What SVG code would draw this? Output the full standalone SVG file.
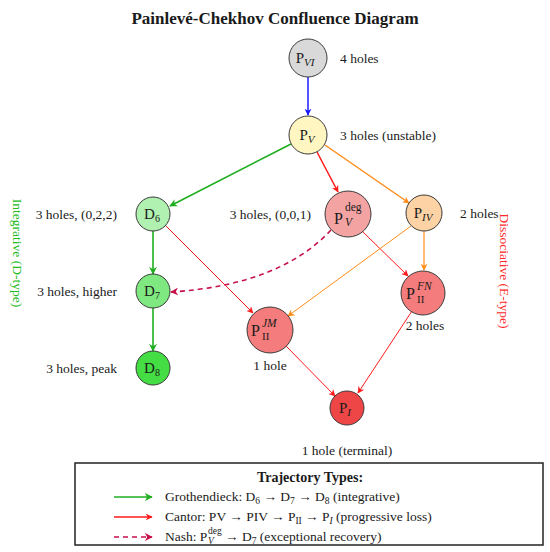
<svg xmlns="http://www.w3.org/2000/svg" width="550" height="552" viewBox="0 0 550 552">
<style>
text{font-family:"Liberation Serif","DejaVu Serif",serif;fill:#1a1a1a}
.title{font-size:17px;font-weight:bold;text-anchor:middle}
.nl{font-size:15px;text-anchor:middle}
.np{font-size:16px}
.lab{font-size:13.5px}
.node{stroke:#3a3a3a;stroke-width:1}
.e{fill:none}
.leg{font-size:13.5px}
</style>
<defs>
<marker id="aB" viewBox="0 0 10 10" refX="9" refY="5" markerWidth="7" markerHeight="7" orient="auto" markerUnits="userSpaceOnUse"><path d="M0,0 L10,5 L0,10 L3,5 Z" fill="#1a1aff"/></marker>
<marker id="aG" viewBox="0 0 10 10" refX="9" refY="5" markerWidth="8" markerHeight="8" orient="auto" markerUnits="userSpaceOnUse"><path d="M0,0 L10,5 L0,10 L3,5 Z" fill="#1fae1f"/></marker>
<marker id="aR" viewBox="0 0 10 10" refX="9" refY="5" markerWidth="7" markerHeight="7" orient="auto" markerUnits="userSpaceOnUse"><path d="M0,0 L10,5 L0,10 L3,5 Z" fill="#ff1a1a"/></marker>
<marker id="aO" viewBox="0 0 10 10" refX="9" refY="5" markerWidth="7" markerHeight="7" orient="auto" markerUnits="userSpaceOnUse"><path d="M0,0 L10,5 L0,10 L3,5 Z" fill="#ff8c1a"/></marker>
<marker id="aD" viewBox="0 0 10 10" refX="9" refY="5" markerWidth="8" markerHeight="8" orient="auto" markerUnits="userSpaceOnUse"><path d="M0,0 L10,5 L0,10 L3,5 Z" fill="#c8104a"/></marker>
</defs>
<rect width="550" height="552" fill="#ffffff"/>
<text class="title" x="275" y="24">Painlevé-Chekhov Confluence Diagram</text>

<g id="connectors">
<line class="e" x1="308" y1="77" x2="308" y2="115" stroke="#1a1aff" stroke-width="1.5" marker-end="url(#aB)"/>
<line class="e" x1="291" y1="144" x2="170" y2="206" stroke="#1fae1f" stroke-width="1.6" marker-end="url(#aG)"/>
<line class="e" x1="317" y1="152" x2="338" y2="192" stroke="#ff1a1a" stroke-width="1.5" marker-end="url(#aR)"/>
<line class="e" x1="325" y1="145" x2="409" y2="203" stroke="#ff8c1a" stroke-width="1.5" marker-end="url(#aO)"/>
<line class="e" x1="153" y1="231" x2="153" y2="274" stroke="#1fae1f" stroke-width="1.6" marker-end="url(#aG)"/>
<line class="e" x1="153" y1="308" x2="153" y2="351" stroke="#1fae1f" stroke-width="1.6" marker-end="url(#aG)"/>
<line class="e" x1="166" y1="226" x2="253" y2="313" stroke="#ff1a1a" stroke-width="1" marker-end="url(#aR)"/>
<path class="e" d="M331,230 Q280,285 171,292" stroke="#c8104a" stroke-width="1.6" stroke-dasharray="5,4" marker-end="url(#aD)"/>
<line class="e" x1="362" y1="231" x2="408" y2="276" stroke="#ff1a1a" stroke-width="1" marker-end="url(#aR)"/>
<line class="e" x1="424" y1="231" x2="424" y2="270" stroke="#ff8c1a" stroke-width="1.2" marker-end="url(#aO)"/>
<line class="e" x1="411" y1="226" x2="288" y2="316" stroke="#ff8c1a" stroke-width="1" marker-end="url(#aO)"/>
<line class="e" x1="286" y1="346" x2="335" y2="396" stroke="#ff1a1a" stroke-width="1" marker-end="url(#aR)"/>
<line class="e" x1="412" y1="311" x2="358" y2="393" stroke="#ff1a1a" stroke-width="1" marker-end="url(#aR)"/>
</g>

<g id="PVI">
<circle class="node" cx="308" cy="58" r="19" fill="#d9d9d9"/>
<text class="nl" x="305" y="63">P<tspan font-size="11" font-style="italic" dy="3">VI</tspan></text>
<text class="lab" x="340" y="63">4 holes</text>
</g>
<g id="PV">
<circle class="node" cx="308" cy="135" r="19" fill="#fff6c2"/>
<text class="nl" x="307" y="140">P<tspan font-size="11" font-style="italic" dy="3">V</tspan></text>
<text class="lab" x="340" y="140">3 holes (unstable)</text>
</g>
<g id="D6">
<circle class="node" cx="153" cy="214" r="17" fill="#b0f0b0"/>
<text class="nl" x="152" y="219">D<tspan font-size="10" dy="3">6</tspan></text>
<text class="lab" x="117" y="219" text-anchor="end">3 holes, (0,2,2)</text>
</g>
<g id="PVdeg">
<circle class="node" cx="348" cy="214" r="23" fill="#f4a3a3"/>
<text class="np" x="334" y="224">P</text>
<text font-size="11.5" x="345" y="211">deg</text>
<text font-size="11.5" font-style="italic" x="345" y="226">V</text>
<text class="lab" x="311" y="219" text-anchor="end">3 holes, (0,0,1)</text>
</g>
<g id="PIV">
<circle class="node" cx="424" cy="213" r="18" fill="#fdd3a6"/>
<text class="nl" x="423" y="218">P<tspan font-size="11" font-style="italic" dy="3">IV</tspan></text>
<text class="lab" x="460" y="218">2 holes</text>
</g>
<g id="D7">
<circle class="node" cx="153" cy="291" r="17" fill="#80e880"/>
<text class="nl" x="152" y="296">D<tspan font-size="10" dy="3">7</tspan></text>
<text class="lab" x="117" y="296" text-anchor="end">3 holes, higher</text>
</g>
<g id="D8">
<circle class="node" cx="153" cy="368" r="17" fill="#44dd44"/>
<text class="nl" x="152" y="373">D<tspan font-size="10" dy="3">8</tspan></text>
<text class="lab" x="117" y="373" text-anchor="end">3 holes, peak</text>
</g>
<g id="PIIJM">
<circle class="node" cx="270" cy="330" r="23" fill="#f47c7c"/>
<text class="np" x="251" y="336">P</text>
<text font-size="11" x="262" y="340">II</text>
<text font-size="11.5" font-style="italic" x="262" y="327">JM</text>
<text class="lab" x="270" y="370" text-anchor="middle">1 hole</text>
</g>
<g id="PIIFN">
<circle class="node" cx="423" cy="293" r="22" fill="#f47c7c"/>
<text class="np" x="406" y="299">P</text>
<text font-size="11" x="417" y="303">II</text>
<text font-size="11.5" font-style="italic" x="417" y="290">FN</text>
<text class="lab" x="425" y="330" text-anchor="middle">2 holes</text>
</g>
<g id="PI">
<circle class="node" cx="347" cy="408" r="17" fill="#ee4646"/>
<text class="nl" x="345" y="413">P<tspan font-size="11" font-style="italic" dy="3">I</tspan></text>
<text class="lab" x="347" y="455" text-anchor="middle">1 hole (terminal)</text>
</g>

<text class="lab" transform="translate(13,253) rotate(90)" text-anchor="middle" style="fill:#22bb22">Integrative (D-type)</text>
<text class="lab" transform="translate(500,271) rotate(90)" text-anchor="middle" style="fill:#ff2a2a">Dissociative (E-type)</text>

<g id="legend">
<rect x="75" y="463" width="468" height="82" fill="#ffffff" stroke="#222" stroke-width="1.5"/>
<text x="310" y="482" text-anchor="middle" font-size="14" font-weight="bold">Trajectory Types:</text>
<line x1="114" y1="497" x2="152" y2="497" stroke="#1fae1f" stroke-width="1.6" marker-end="url(#aG)"/>
<text class="leg" x="165" y="501">Grothendieck: D<tspan font-size="9.5" dy="3">6</tspan><tspan dy="-3"> → D</tspan><tspan font-size="9.5" dy="3">7</tspan><tspan dy="-3"> → D</tspan><tspan font-size="9.5" dy="3">8</tspan><tspan dy="-3"> (integrative)</tspan></text>
<line x1="114" y1="517" x2="152" y2="517" stroke="#ff1a1a" stroke-width="1.6" marker-end="url(#aR)"/>
<text class="leg" x="165" y="521">Cantor: PV → PIV → P<tspan font-size="9.5" dy="3">II</tspan><tspan dy="-3"> → P</tspan><tspan font-size="9.5" font-style="italic" dy="3">I</tspan><tspan dy="-3"> (progressive loss)</tspan></text>
<line x1="114" y1="537" x2="152" y2="537" stroke="#c8104a" stroke-width="1.6" stroke-dasharray="5,4" marker-end="url(#aD)"/>
<text class="leg" x="165" y="541">Nash: P</text>
<text font-size="9.5" x="208" y="534">deg</text>
<text font-size="9.5" font-style="italic" x="208" y="544">V</text>
<text class="leg" x="225" y="541">→ D<tspan font-size="9.5" dy="3">7</tspan><tspan dy="-3"> (exceptional recovery)</tspan></text>
</g>
</svg>
